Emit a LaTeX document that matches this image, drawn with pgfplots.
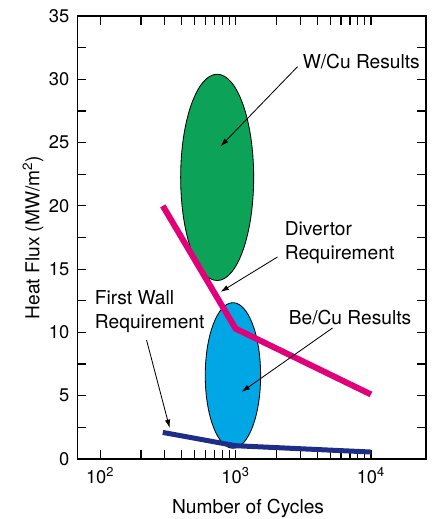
\documentclass[border=0pt]{standalone}
\usepackage{pgfplots}
\pgfplotsset{compat=1.18}
\usepackage{fontspec}
\setmainfont{TeX Gyre Heros}
\usetikzlibrary{calc,arrows.meta}
\definecolor{wcu}{RGB}{12,163,89}
\definecolor{becu}{RGB}{0,167,228}
\definecolor{divreq}{RGB}{226,0,122}
\definecolor{fwreq}{RGB}{30,45,135}
\begin{document}
\begin{tikzpicture}
\begin{axis}[
  scale only axis,
  width=209.1pt, height=265.8pt,
  xmode=log,
  xmin=68, xmax=25500,
  ymin=0, ymax=35,
  xtick={100,1000,10000},
  xticklabels={10\textsuperscript{2},10\textsuperscript{3},10\textsuperscript{4}},
  ytick={0,5,...,35},
  minor ytick={2.5,7.5,...,32.5},
  tick align=inside,
  major tick length=5.4pt,
  minor tick length=5.4pt,
  every tick/.style={black, line width=0.7pt},
  axis line style={line width=0.8pt},
  tick label style={font=\fontsize{11}{13}\selectfont},
  /pgf/number format/assume math mode=true,
  yticklabel style={xshift=-1.4pt},
  xticklabel style={yshift=-1.5pt},
  every axis y label/.style={at={(rel axis cs:0,0.5)}, xshift=-26.7pt, rotate=90, anchor=center, font=\fontsize{11.5}{13}\selectfont},
  every axis x label/.style={at={(rel axis cs:0.5,0)}, yshift=-29.4pt, xshift=-2.2pt, anchor=center, font=\fontsize{11.5}{13}\selectfont},
  xlabel={Number of Cycles},
  ylabel={Heat Flux (MW/m\textsuperscript{2})},
  clip=false,
]
\coordinate (bl) at (rel axis cs:0,0);
\coordinate (tr) at (rel axis cs:1,1);
% W/Cu results ellipse
\draw[fill=wcu, draw=black, line width=0.5pt]
  let \p1=(axis cs:393,14.1), \p2=(axis cs:1360,30.4) in
  ($(\p1)!0.5!(\p2)$) ellipse [x radius={(\x2-\x1)/2}, y radius={(\y2-\y1)/2}];
% Be/Cu results ellipse
\draw[fill=becu, draw=black, line width=0.5pt]
  let \p1=(axis cs:597,0.85), \p2=(axis cs:1531,12.35) in
  ($(\p1)!0.5!(\p2)$) ellipse [x radius={(\x2-\x1)/2}, y radius={(\y2-\y1)/2}];
% Divertor requirement
\addplot[divreq, line width=3.6pt, line join=miter] coordinates {(290,20.0) (1000,10.3) (10000,5.1)};
% First wall requirement
\addplot[fwreq, line width=3.0pt] coordinates {(290,2.1) (1000,1.05) (10000,0.55)};
% annotations
\tikzset{ann/.style={-{Latex[length=5pt,width=3.2pt]}, black, line width=0.5pt},
         lab/.style={anchor=west, align=left, inner sep=0pt, font=\fontsize{11.5}{14.4}\selectfont}}
\node[lab] at (axis cs:3120,31.44) {W/Cu Results};
\draw[ann] (axis cs:2870,31.0) -- (axis cs:774,24.7);
\node[lab] at (axis cs:2300,17.1) {Divertor\\Requirement};
\draw[ann] (axis cs:2040,15.96) -- (axis cs:774,13.2);
\node[lab] at (axis cs:91,11.65) {First Wall\\Requirement};
\draw[ann] (axis cs:220,9.4) -- (axis cs:326,2.45);
\node[lab] at (axis cs:2460,11.2) {Be/Cu Results};
\draw[ann] (axis cs:5200,10.35) -- (axis cs:1107,5.3);
\end{axis}
\pgfresetboundingbox
\path ($(bl)+(-46.5pt,-36pt)$) rectangle ($(tr)+(4.2pt,9.6pt)$);
\end{tikzpicture}
\end{document}
